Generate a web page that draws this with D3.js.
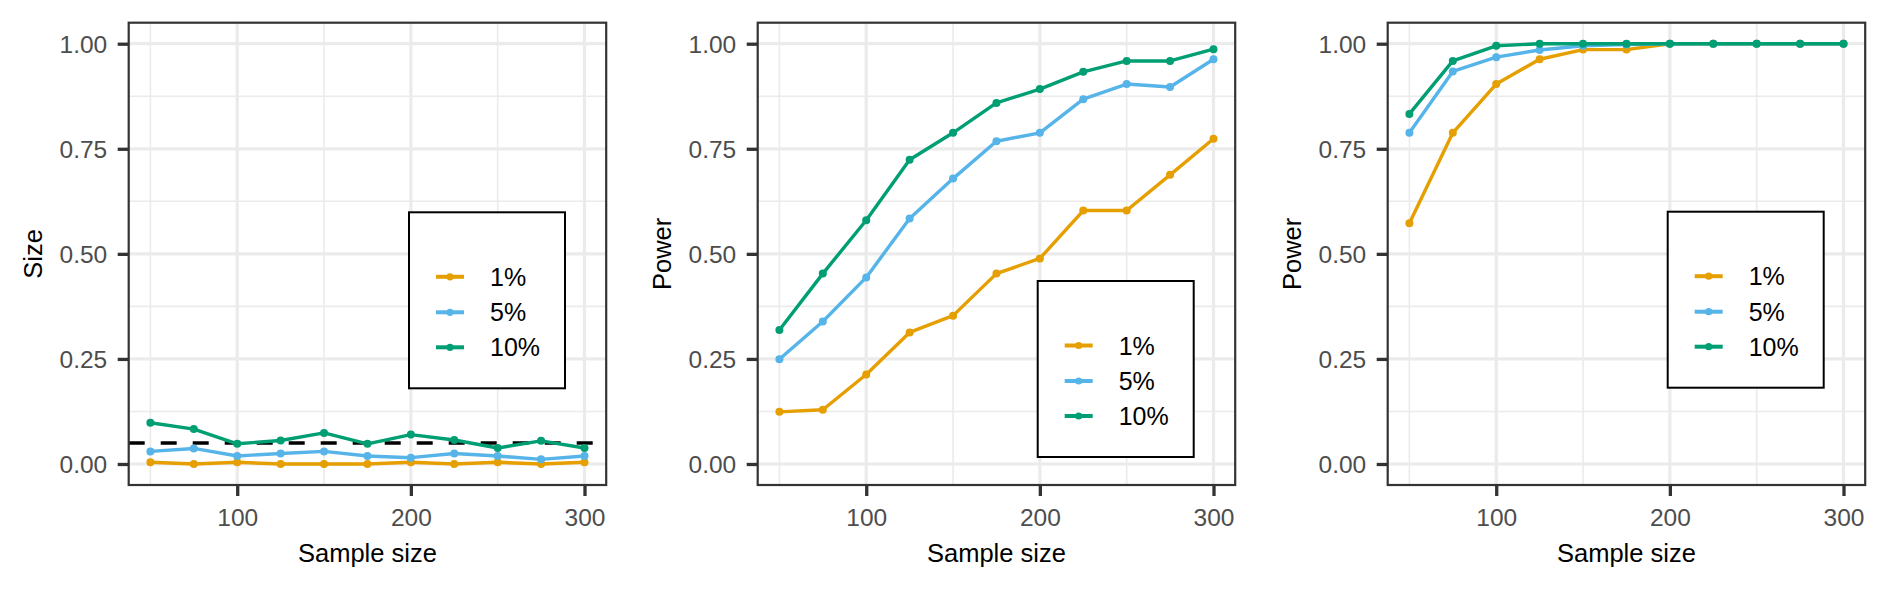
<!DOCTYPE html>
<html>
<head>
<meta charset="utf-8">
<script src="https://cdn.jsdelivr.net/npm/d3@7"></script>
<style>
  html, body { margin: 0; padding: 0; background: #fff; }
  svg { display: block; }
  text { font-family: "Liberation Sans", Arial, sans-serif; }
</style>
</head>
<body>
<script>
// ---------- data ----------
const sampleSizes = [50, 75, 100, 125, 150, 175, 200, 225, 250, 275, 300];
const levels = ["1%", "5%", "10%"];
const levelColors = ["#E69F00", "#56B4E9", "#009E73"];

// Panel 1: size
const size1 = [0.004, 0.000, 0.004, 0.000, 0.000, 0.000, 0.004, 0.000, 0.004, 0.000, 0.004];
const size5 = [0.030, 0.037, 0.019, 0.025, 0.030, 0.019, 0.015, 0.025, 0.019, 0.011, 0.019];
const size10 = [0.098, 0.083, 0.048, 0.056, 0.074, 0.048, 0.070, 0.057, 0.038, 0.055, 0.038];
const nominalSize = 0.05;

// Panel 2: power
const powA1 = [0.124, 0.129, 0.213, 0.313, 0.353, 0.453, 0.489, 0.603, 0.603, 0.688, 0.774];
const powA5 = [0.249, 0.339, 0.444, 0.584, 0.679, 0.768, 0.788, 0.868, 0.904, 0.897, 0.963];
const powA10 = [0.319, 0.453, 0.580, 0.724, 0.788, 0.859, 0.892, 0.933, 0.959, 0.959, 0.987];

// Panel 3: power
const powB1 = [0.573, 0.788, 0.904, 0.963, 0.986, 0.986, 1.000, 1.000, 1.000, 1.000, 1.000];
const powB5 = [0.788, 0.934, 0.968, 0.985, 0.995, 0.998, 1.000, 1.000, 1.000, 1.000, 1.000];
const powB10 = [0.833, 0.959, 0.995, 1.000, 1.000, 1.000, 1.000, 1.000, 1.000, 1.000, 1.000];

const yTicks = [0, 0.25, 0.5, 0.75, 1];
const yTickLabels = ["0.00", "0.25", "0.50", "0.75", "1.00"];
const yMinor = [0.125, 0.375, 0.625, 0.875];
const xTicks = [100, 200, 300];
const xMinor = [50, 150, 250];
const xTitle = "Sample size";
const yTitles = ["Size", "Power", "Power"];

const panels = [
  { series: [size1, size5, size10], hline: nominalSize, yTitle: yTitles[0] },
  { series: [powA1, powA5, powA10], hline: null, yTitle: yTitles[1] },
  { series: [powB1, powB5, powB10], hline: null, yTitle: yTitles[2] }
];

// ---------- layout ----------
const W = 1889, H = 590;
const panelLefts = [128.7, 757.7, 1387.7];
const panelW = 477.5;
const panelTop = 22.7, panelBottom = 485;
const legendOffsets = [[280.3, 189.6], [280, 258.3], [280, 189]];
const legendW = 156, legendH = 176;
const FONT = "'Liberation Sans', Arial, sans-serif";

const svg = d3.select("body").append("svg").attr("width", W).attr("height", H);

panels.forEach((p, pi) => {
  const x0 = panelLefts[pi];
  const x = d3.scaleLinear().domain([37.5, 312.5]).range([x0, x0 + panelW]);
  const y = d3.scaleLinear().domain([-0.05, 1.05]).range([panelBottom, panelTop]);
  const g = svg.append("g");

  // grid minor
  g.selectAll(".ymin").data(yMinor).enter().append("line")
    .attr("x1", x0).attr("x2", x0 + panelW)
    .attr("y1", d => y(d)).attr("y2", d => y(d))
    .attr("stroke", "#EBEBEB").attr("stroke-width", 1.6);
  g.selectAll(".xmin").data(xMinor).enter().append("line")
    .attr("y1", panelTop).attr("y2", panelBottom)
    .attr("x1", d => x(d)).attr("x2", d => x(d))
    .attr("stroke", "#EBEBEB").attr("stroke-width", 1.6);
  // grid major
  g.selectAll(".ymaj").data(yTicks).enter().append("line")
    .attr("x1", x0).attr("x2", x0 + panelW)
    .attr("y1", d => y(d)).attr("y2", d => y(d))
    .attr("stroke", "#EBEBEB").attr("stroke-width", 3.2);
  g.selectAll(".xmaj").data(xTicks).enter().append("line")
    .attr("y1", panelTop).attr("y2", panelBottom)
    .attr("x1", d => x(d)).attr("x2", d => x(d))
    .attr("stroke", "#EBEBEB").attr("stroke-width", 3.2);

  // hline
  if (p.hline !== null) {
    g.append("line")
      .attr("x1", x0).attr("x2", x0 + panelW)
      .attr("y1", y(p.hline)).attr("y2", y(p.hline))
      .attr("stroke", "#000").attr("stroke-width", 3.6)
      .attr("stroke-dasharray", "16,16");
  }

  // series
  const line = d3.line().x((d, i) => x(sampleSizes[i])).y(d => y(d));
  p.series.forEach((vals, si) => {
    g.append("path").datum(vals)
      .attr("d", line)
      .attr("fill", "none")
      .attr("stroke", levelColors[si])
      .attr("stroke-width", 3.4)
      .attr("stroke-linejoin", "round");
    g.selectAll(null).data(vals).enter().append("circle")
      .attr("cx", (d, i) => x(sampleSizes[i]))
      .attr("cy", d => y(d))
      .attr("r", 4)
      .attr("fill", levelColors[si]);
  });

  // border
  g.append("rect")
    .attr("x", x0).attr("y", panelTop)
    .attr("width", panelW).attr("height", panelBottom - panelTop)
    .attr("fill", "none").attr("stroke", "#333333").attr("stroke-width", 2.2);

  // y axis
  const yAxis = d3.axisLeft(y).tickValues(yTicks)
    .tickFormat((d, i) => yTickLabels[i]).tickSize(11).tickPadding(10.5);
  const ya = svg.append("g").attr("transform", `translate(${x0},0)`).call(yAxis);
  ya.select(".domain").remove();
  ya.selectAll(".tick line").attr("stroke", "#333333").attr("stroke-width", 3.3);
  ya.selectAll(".tick text").attr("fill", "#4D4D4D")
    .style("font-size", "24.5px").style("font-family", FONT)
    .attr("dy", "0.36em");

  // x axis
  const xAxis = d3.axisBottom(x).tickValues(xTicks).tickSize(11).tickPadding(13);
  const xa = svg.append("g").attr("transform", `translate(0,${panelBottom})`).call(xAxis);
  xa.select(".domain").remove();
  xa.selectAll(".tick line").attr("stroke", "#333333").attr("stroke-width", 3.3);
  xa.selectAll(".tick text").attr("fill", "#4D4D4D")
    .style("font-size", "24.5px").style("font-family", FONT);

  // titles
  svg.append("text")
    .attr("x", x0 + panelW / 2).attr("y", 562)
    .attr("text-anchor", "middle").attr("fill", "#000")
    .style("font-size", "25.5px").text(xTitle);
  svg.append("text")
    .attr("transform", `translate(${x0 - 86.5},${(panelTop + panelBottom) / 2}) rotate(-90)`)
    .attr("text-anchor", "middle").attr("fill", "#000")
    .style("font-size", "25.5px").text(p.yTitle);

  // legend
  const lx = x0 + legendOffsets[pi][0], ly = panelTop + legendOffsets[pi][1];
  const lg = svg.append("g");
  lg.append("rect").attr("x", lx).attr("y", ly)
    .attr("width", legendW).attr("height", legendH)
    .attr("fill", "#fff").attr("stroke", "#000").attr("stroke-width", 2);
  const rowY = [64.5, 100, 135];
  levels.forEach((lab, li) => {
    const cy = ly + rowY[li];
    lg.append("line").attr("x1", lx + 27).attr("x2", lx + 55)
      .attr("y1", cy).attr("y2", cy)
      .attr("stroke", levelColors[li]).attr("stroke-width", 4);
    lg.append("circle").attr("cx", lx + 41).attr("cy", cy).attr("r", 3.6)
      .attr("fill", levelColors[li]);
    lg.append("text").attr("x", lx + 81).attr("y", cy).attr("dy", "0.36em")
      .attr("fill", "#000").style("font-size", "25px").text(lab);
  });
});
</script>
</body>
</html>
